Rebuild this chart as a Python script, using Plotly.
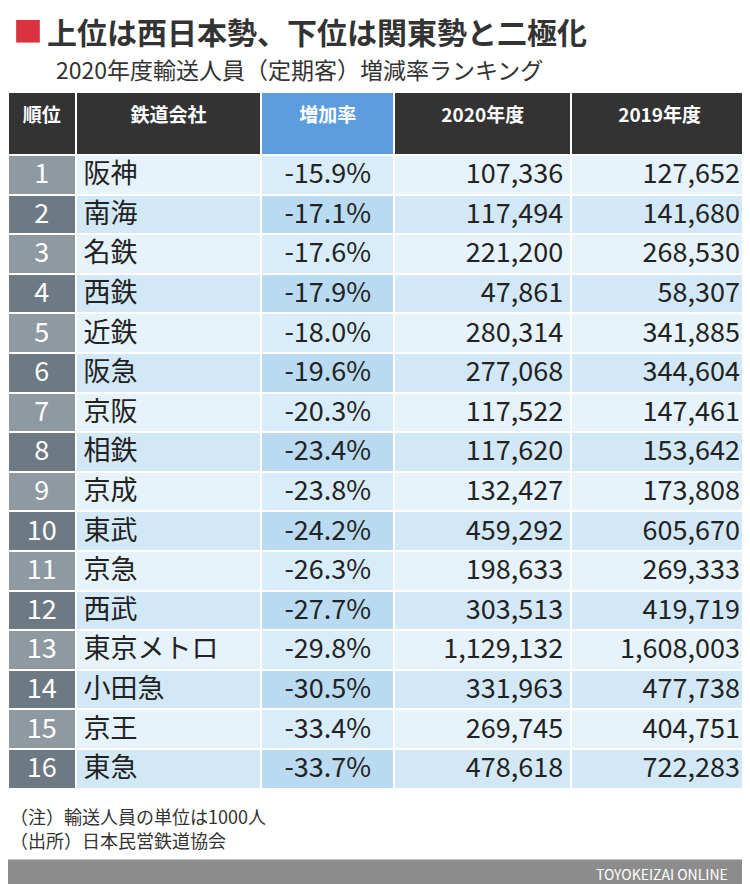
import plotly.graph_objects as go

# data
ranks = [str(i) for i in range(1, 17)]
companies = ["阪神", "南海", "名鉄", "西鉄", "近鉄", "阪急", "京阪", "相鉄",
             "京成", "東武", "京急", "西武", "東京メトロ", "小田急", "京王", "東急"]
rates = ["-15.9%", "-17.1%", "-17.6%", "-17.9%", "-18.0%", "-19.6%", "-20.3%", "-23.4%",
         "-23.8%", "-24.2%", "-26.3%", "-27.7%", "-29.8%", "-30.5%", "-33.4%", "-33.7%"]
v2020 = ["107,336", "117,494", "221,200", "47,861", "280,314", "277,068", "117,522", "117,620",
         "132,427", "459,292", "198,633", "303,513", "1,129,132", "331,963", "269,745", "478,618"]
v2019 = ["127,652", "141,680", "268,530", "58,307", "341,885", "344,604", "147,461", "153,642",
         "173,808", "605,670", "269,333", "419,719", "1,608,003", "477,738", "404,751", "722,283"]
headers = ["順位", "鉄道会社", "増加率", "2020年度", "2019年度"]
notes = ["（注）輸送人員の単位は1000人", "（出所）日本民営鉄道協会"]

n = len(ranks)
rank_fill = ["#8e99a1" if i % 2 == 0 else "#6d7983" for i in range(n)]
data_fill = ["#e7f3fb" if i % 2 == 0 else "#d3e8f6" for i in range(n)]
rate_fill = ["#d9ecf9" if i % 2 == 0 else "#b9daf1" for i in range(n)]

FONT = "Noto Sans CJK JP"

fig = go.Figure(go.Table(
    columnwidth=[68, 187, 134, 178, 178],
    header=dict(
        values=["<b>%s</b>" % h for h in headers],
        fill_color=["#333333", "#333333", "#5c9de0", "#333333", "#333333"],
        font=dict(color="white", size=19, family=FONT),
        align="center", height=63, line=dict(color="white", width=2),
    ),
    cells=dict(
        values=[ranks, companies, rates, v2020, v2019],
        fill_color=[rank_fill, data_fill, rate_fill, data_fill, data_fill],
        font=dict(color=["white", "#222222", "#222222", "#222222", "#222222"], size=27, family=FONT),
        align=["center", "left", "center", "right", "right"],
        height=39.6, line=dict(color="white", width=2),
    ),
    domain=dict(x=[0, 1], y=[0, 1]),
))

annotations = [
    dict(text="<b>上位は西日本勢、下位は関東勢と二極化</b>", x=0.05, y=1.086, xref="paper", yref="paper",
         xanchor="left", yanchor="middle", showarrow=False, font=dict(size=30, color="#333333")),
    dict(text="2020年度輸送人員（定期客）増減率ランキング", x=0.062, y=1.033, xref="paper", yref="paper",
         xanchor="left", yanchor="middle", showarrow=False, font=dict(size=23, color="#333333")),
    dict(text="TOYOKEIZAI ONLINE", x=0.975, y=-0.108, xref="paper", yref="paper",
         xanchor="right", yanchor="middle", showarrow=False, font=dict(size=14, color="white")),
]
for i, t in enumerate(notes):
    annotations.append(dict(text=t, x=0.0, y=-0.025 - i * 0.034, xref="paper", yref="paper",
                            xanchor="left", yanchor="middle", showarrow=False,
                            font=dict(size=18, color="#333333")))

fig.update_layout(
    width=750, height=884,
    margin=dict(l=0, r=10, t=84, b=94),
    paper_bgcolor="white",
    font=dict(family=FONT),
    shapes=[
        dict(type="rect", xref="paper", yref="paper", x0=0.011, x1=0.043, y0=1.102, y1=1.07,
             fillcolor="#d8333f", line=dict(width=0)),
        dict(type="rect", xref="paper", yref="paper", x0=-0.01, x1=1.02, y0=-0.087, y1=-0.14,
             fillcolor="#8c8c8c", line=dict(width=0)),
    ],
    annotations=annotations,
)

fig.write_html("out.html")
